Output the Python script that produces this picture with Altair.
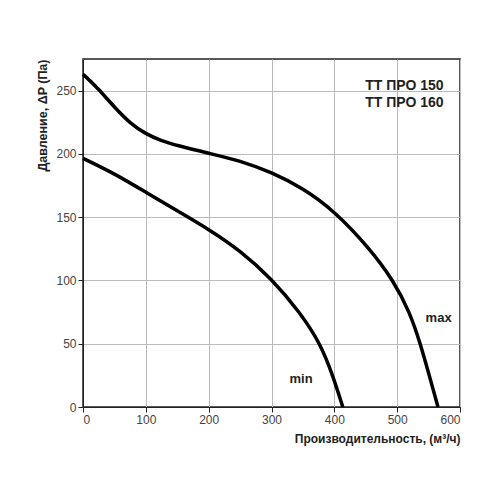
import pandas as pd
import altair as alt

# кривые вентилятора: расход (м3/ч) и давление (Па)
max_q = [0, 22.5, 50, 76, 100, 124, 150, 200, 250, 300, 350, 400, 455, 494, 520, 537, 551, 565]
max_p = [263, 252.6, 236.8, 223.7, 215.8, 210.5, 206.6, 200.5, 194.7, 185.5, 173, 155, 126, 100, 75, 50, 25, 0]
min_q = [0, 50, 100, 150, 200, 250, 300, 345, 378, 397.5, 413.5]
min_p = [196.5, 184.5, 169.7, 155, 140.5, 123.7, 101.5, 75, 50, 25, 0]

label_text = ["max", "min"]
label_q = [566, 347]
label_p = [70, 22]

curves = pd.concat([
    pd.DataFrame({"q": max_q, "p": max_p, "mode": "max"}),
    pd.DataFrame({"q": min_q, "p": min_p, "mode": "min"}),
])
labels = pd.DataFrame({"t": label_text, "q": label_q, "p": label_p})
header = pd.DataFrame({"t": [["ТТ ПРО 150", "ТТ ПРО 160"]], "q": [574], "p": [254]})

FONT = "Liberation Sans"

x_axis = alt.Axis(
    values=list(range(0, 601, 50)),
    labelExpr="datum.value % 100 == 0 ? datum.label : ''",
    tickSize={"condition": {"test": "datum.value % 100 == 0", "value": 5}, "value": 0},
    title="Производительность, (м³/ч)", titleAnchor="end", titleFontWeight="bold",
    titleFontSize=12, titleColor="#222", labelColor="#444", labelFontSize=12,
    gridColor="#bbb", domainColor="#222", tickColor="#222", titlePadding=8,
)
y_axis = alt.Axis(
    values=list(range(0, 276, 25)),
    labelExpr="datum.value % 50 == 0 ? datum.label : ''",
    tickSize={"condition": {"test": "datum.value % 50 == 0", "value": 5}, "value": 0},
    title="Давление, ΔP (Па)", titleAnchor="end", titleFontWeight="bold",
    titleFontSize=12.5, titleColor="#222", labelColor="#444", labelFontSize=12,
    gridColor="#bbb", domainColor="#222", tickColor="#222", titlePadding=6,
)

base = alt.Chart(curves).mark_line(color="black", strokeWidth=3.5, interpolate="basis").encode(
    x=alt.X("q:Q", scale=alt.Scale(domain=[0, 600], nice=False), axis=x_axis),
    y=alt.Y("p:Q", scale=alt.Scale(domain=[0, 275], nice=False), axis=y_axis),
    detail="mode:N",
)

lbl = alt.Chart(labels).mark_text(font=FONT, fontWeight="bold", fontSize=13, color="#222").encode(
    x="q:Q", y="p:Q", text="t:N"
)

hdr = alt.Chart(header).mark_text(font=FONT, fontWeight="bold", fontSize=14, color="#222",
                                  align="right", lineHeight=17).encode(
    x="q:Q", y="p:Q", text="t"
)

chart = alt.layer(base, lbl, hdr).properties(
    width=377, height=348, background="white",
    padding={"left": 28, "top": 50, "right": 5, "bottom": 5},
).configure_view(stroke="#222", strokeWidth=1.5).configure_axis(
    labelFont=FONT, titleFont=FONT
)

chart.save("out.html", embed_options={"renderer": "svg", "actions": False})
